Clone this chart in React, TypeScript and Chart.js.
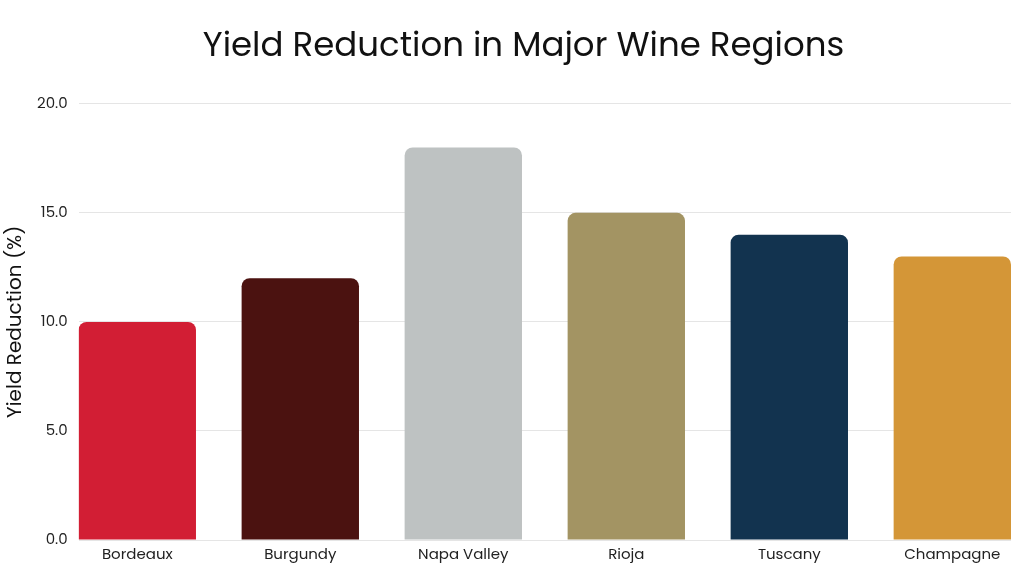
import { useEffect, useRef } from 'react'
import { Chart, registerables } from 'chart.js'

Chart.register(...registerables)

const regions = ['Bordeaux', 'Burgundy', 'Napa Valley', 'Rioja', 'Tuscany', 'Champagne']
const yieldReduction = [10, 12, 18, 15, 14, 13]
const barColors = ['#D21E34', '#4B1210', '#BEC2C2', '#A39463', '#12334F', '#D49637']
const yTicks = [0, 5, 10, 15, 20]

const FONT = 'Poppins, Lato, sans-serif'

// the reference title sits a little right of the canvas centre
const shiftTitle = {
  id: 'shiftTitle',
  afterLayout(chart: any) {
    const t = chart.titleBlock
    if (t) {
      t.left += 16
      t.right += 16
    }
  }
}

export default function App() {
  const chartRef = useRef<HTMLCanvasElement>(null)
  const chartInstance = useRef<Chart | null>(null)

  useEffect(() => {
    if (!chartRef.current) return
    if (chartInstance.current) chartInstance.current.destroy()
    const ctx = chartRef.current.getContext('2d')
    if (!ctx) return

    chartInstance.current = new Chart(ctx, {
      type: 'bar',
      data: {
        datasets: [
          {
            label: 'Yield Reduction (%)',
            data: yieldReduction.map((v, i) => ({ x: i, y: v })),
            backgroundColor: barColors,
            borderWidth: 0,
            borderRadius: { topLeft: 8, topRight: 8, bottomLeft: 0, bottomRight: 0 },
            borderSkipped: 'bottom',
            barPercentage: 0.9,
            categoryPercentage: 0.8
          }
        ]
      },
      options: {
        responsive: true,
        maintainAspectRatio: false,
        animation: false,
        layout: {
          padding: { left: 4, right: 13, top: 10, bottom: 6 }
        },
        plugins: {
          legend: { display: false },
          tooltip: { enabled: false },
          title: {
            display: true,
            text: 'Yield Reduction in Major Wine Regions',
            color: '#111111',
            font: { family: FONT, size: 34, weight: 'normal' },
            padding: { top: 17, bottom: 36 }
          }
        },
        scales: {
          x: {
            type: 'linear',
            offset: false,
            min: -0.36,
            max: regions.length - 1 + 0.36,
            grid: { display: false, drawTicks: false },
            border: { display: false },
            afterBuildTicks: (scale) => {
              scale.ticks = regions.map((_, i) => ({ value: i }))
            },
            ticks: {
              color: '#222222',
              font: { family: FONT, size: 15 },
              padding: 6,
              callback: (value) => regions[Number(value)] ?? ''
            }
          },
          y: {
            min: 0,
            max: 20,
            afterBuildTicks: (scale) => {
              scale.ticks = yTicks.map((v) => ({ value: v }))
            },
            grid: { color: '#E5E5E5', drawTicks: false },
            border: { display: false },
            ticks: {
              color: '#222222',
              font: { family: FONT, size: 15 },
              padding: 11,
              callback: (value) => Number(value).toFixed(1)
            },
            title: {
              display: true,
              text: 'Yield Reduction (%)',
              color: '#111111',
              font: { family: FONT, size: 20 },
              padding: { top: 0, bottom: -2 }
            }
          }
        }
      },
      plugins: [shiftTitle]
    })

    return () => {
      if (chartInstance.current) chartInstance.current.destroy()
    }
  }, [])

  return (
    <div style={{ position: 'fixed', left: 0, top: 0, width: '1024px', height: '576px', background: '#ffffff' }}>
      <canvas ref={chartRef}></canvas>
    </div>
  )
}
